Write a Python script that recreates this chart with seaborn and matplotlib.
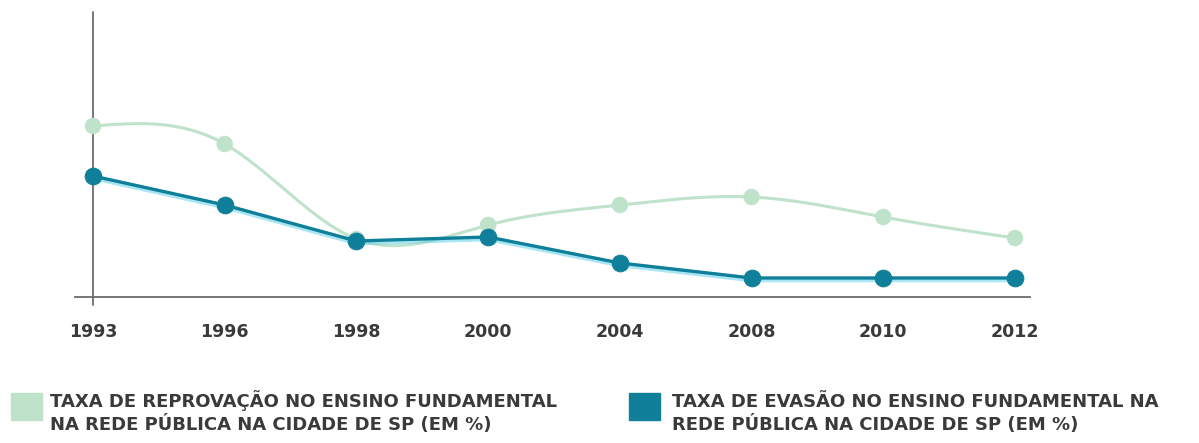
import numpy as np
import pandas as pd
import matplotlib
matplotlib.use("Agg")
import matplotlib.pyplot as plt
import matplotlib.transforms as mtransforms
import seaborn as sns

years = ["1993", "1996", "1998", "2000", "2004", "2008", "2010", "2012"]
reprovacao = [17.1, 15.3, 5.8, 7.2, 9.2, 10.0, 8.0, 5.9]
evasao = [12.1, 9.2, 5.6, 6.0, 3.4, 1.9, 1.9, 1.9]

label_rep = ["TAXA DE REPROVAÇÃO NO ENSINO FUNDAMENTAL",
             "NA REDE PÚBLICA NA CIDADE DE SP (EM %)"]
label_eva = ["TAXA DE EVASÃO NO ENSINO FUNDAMENTAL NA",
             "REDE PÚBLICA NA CIDADE DE SP (EM %)"]

GREEN = "#bfe2cb"
TEAL = "#10809a"
GLOW = "#63d3ea"
AXIS = "#6b6b6b"
TEXT = "#3a3a3a"

sns.set_theme(style="white")
plt.rcParams["font.family"] = ["DejaVu Sans"]


def natural_spline(x, y, n=400):
    x = np.asarray(x, float)
    y = np.asarray(y, float)
    k = len(x)
    h = np.diff(x)
    A = np.zeros((k, k))
    b = np.zeros(k)
    A[0, 0] = 1
    A[-1, -1] = 1
    for i in range(1, k - 1):
        A[i, i - 1] = h[i - 1]
        A[i, i] = 2 * (h[i - 1] + h[i])
        A[i, i + 1] = h[i]
        b[i] = 3 * ((y[i + 1] - y[i]) / h[i] - (y[i] - y[i - 1]) / h[i - 1])
    c = np.linalg.solve(A, b)
    xs = np.linspace(x[0], x[-1], n)
    ys = np.empty_like(xs)
    for j, xv in enumerate(xs):
        i = min(np.searchsorted(x, xv, side="right") - 1, k - 2)
        bi = (y[i + 1] - y[i]) / h[i] - h[i] * (2 * c[i] + c[i + 1]) / 3
        di = (c[i + 1] - c[i]) / (3 * h[i])
        t = xv - x[i]
        ys[j] = y[i] + bi * t + c[i] * t ** 2 + di * t ** 3
    return xs, ys


idx = np.arange(len(years))
df = pd.DataFrame({"idx": idx, "rep": reprovacao, "eva": evasao})
sx, sy = natural_spline(idx, reprovacao)
smooth = pd.DataFrame({"idx": sx, "rep": sy})

fig = plt.figure(figsize=(11.99, 4.43), dpi=100)
ax = fig.add_axes([75 / 1199, 1 - 297 / 443, (1030 - 75) / 1199, 285 / 443])

sns.lineplot(data=smooth, x="idx", y="rep", ax=ax, color=GREEN, linewidth=2.2)
sns.scatterplot(data=df, x="idx", y="rep", ax=ax, color=GREEN, s=140,
                edgecolor="none", zorder=3)
sns.lineplot(data=df, x="idx", y="eva", ax=ax, color=GLOW, linewidth=4,
             alpha=0.55, zorder=4)
glow = ax.lines[-1]
glow.set_transform(ax.transData + mtransforms.ScaledTranslation(0, -1.5 / 100,
                                                                fig.dpi_scale_trans))
sns.lineplot(data=df, x="idx", y="eva", ax=ax, color=TEAL, linewidth=2.4,
             marker="o", markersize=12, markeredgecolor=TEAL, zorder=5)

ax.set_xlim(-18 / 131.7, 7 + 15 / 131.7)
ax.set_ylim(0, 28.5)
ax.set_xticks(idx)
ax.set_xticklabels(years, fontsize=12.5, color=TEXT, fontweight="bold")
ax.set_yticks([])
ax.tick_params(axis="x", length=0, pad=19)
ax.set_xlabel("")
ax.set_ylabel("")
for s in ["top", "right", "left"]:
    ax.spines[s].set_visible(False)
ax.spines["bottom"].set_color(AXIS)
ax.spines["bottom"].set_linewidth(1.3)
ax.axvline(0, ymin=-0.028, ymax=1.0, color=AXIS, linewidth=1.3, clip_on=False,
           zorder=1)

# legend
fig.patches.append(plt.Rectangle((11 / 1199, 1 - 420 / 443), 31 / 1199, 27 / 443,
                                 transform=fig.transFigure, color=GREEN))
fig.patches.append(plt.Rectangle((629 / 1199, 1 - 420 / 443), 31 / 1199, 27 / 443,
                                 transform=fig.transFigure, color=TEAL))
for xpx, lines in [(50, label_rep), (672, label_eva)]:
    for ypx, line in zip([407, 430], lines):
        fig.text(xpx / 1199, 1 - ypx / 443, line, fontsize=13, color=TEXT,
                 fontweight="bold", va="baseline", ha="left")

fig.savefig("out.png", dpi=100)
